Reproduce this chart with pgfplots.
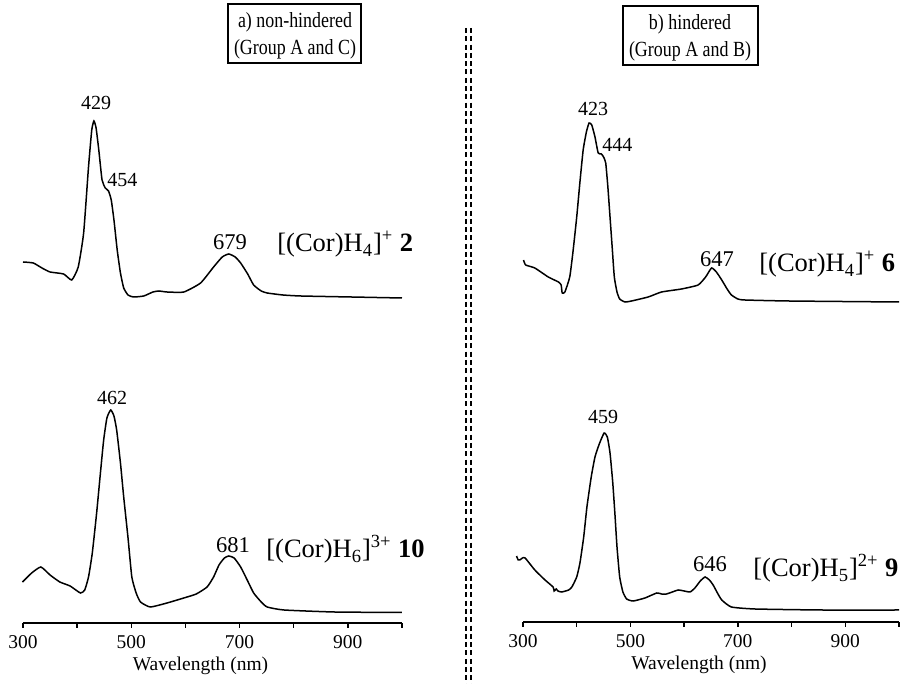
\documentclass[border=0pt]{standalone}
\usepackage{fontspec}
\setmainfont{Liberation Serif}
\usepackage{pgfplots}
\usepackage{pgfplotstable}
\pgfplotsset{compat=1.18}

% spectra, heights in px above the baseline axis
\pgfplotstableread{
nm h
300 361
319 360
335 355
350 351
375 349
390 343
402 356
412 390
421 456
427 493
431 502
435 495
440 473
446 443
452 435
458 432
463 423
468 403
474 373
480 350
486 335
494 328
504 326
523 327
540 331
551 332
566 331
597 331
628 340
652 356
668 366
680 369
692 366
702 360
715 349
726 338
740 332
751 330
780 328
813 327
906 326
1000 325
}\lefttop
\pgfplotstableread{
nm h
299 41
316 50
333 56
350 48
368 41
387 37
406 30
414 33
421 46
428 70
436 110
443 150
449 183
455 205
462 213
468 207
473 193
480 160
486 126
494 85
501 46
509 30
517 21
535 16
566 20
597 25
620 29
640 36
652 46
662 58
672 65
680 67
690 65
702 56
715 42
726 30
740 21
751 16
782 13
875 11
1000 10.5
}\leftbot
\pgfplotstableread{
nm h
301 362
305 357
322 354
347 345
366 340
371 337
373 329
378 330
387 345
393 370
400 405
406 440
412 472
418 490
423 499
428 497
434 485
440 469
446 468
450 465
454 459
458 435
462 405
466 375
470 345
475 330
480 323
490 320
502 321
533 325
558 330
595 333
626 337
640 345
651 354
660 350
670 342
680 333
688 327
700 323
713 322
794 321
1000 320
}\righttop
\pgfplotstableread{
nm h
288 66
291 62
294 62
299 64
304 64
322 52
341 42
356 35
358 31
362 33
365 31
372 30
385 32
391 35
400 45
406 59
413 85
419 115
427 145
434 165
442 178
451 189
457 185
462 169
467 140
471 109
475 75
480 45
486 30
493 23
505 21
527 24
549 29
558 28
567 28
578 30
589 32
600 31
611 30
620 34
630 41
639 45
647 42
654 37
662 29
670 22
688 15
732 13
856 12
1000 12
}\rightbot

\pgfplotsset{spec/.style={
  scale only axis, height=260pt,
  xmin=300, xmax=1000, ymin=0, ymax=520,
  axis x line*=bottom, axis y line=none,
  xtick={300,400,...,1000}, xticklabels={300,,500,,700,,900,},
  xtick align=outside, major tick length=2.5pt,
  tick style={line width=0.75pt, black},
  axis line style={line width=0.75pt},
  /pgf/number format/assume math mode=true,
  ticklabel style={font=\fontsize{9.75}{11}\selectfont},
  xlabel={Wavelength (nm)},
  xlabel style={font=\fontsize{9.75}{11}\selectfont, xshift=-6pt, yshift=2.5pt},
  clip=false,
}}

\newcommand{\cmpd}{\fontsize{13.25}{15}\selectfont}
\newcommand{\pk}{\fontsize{10}{12}\selectfont}
\newcommand{\pkl}{\fontsize{11.25}{13}\selectfont}
\newcommand{\ttl}{\fontsize{10.8}{13}\selectfont}

\begin{document}
\begin{tikzpicture}
\useasboundingbox (0,0) rectangle (452.5pt,342pt);

\begin{axis}[spec, width=189.5pt, at={(11.5pt,30.5pt)}, anchor=south west]
\addplot[black, line width=0.75pt, smooth, tension=0.3] table[x=nm,y=h] {\lefttop};
\addplot[black, line width=0.75pt, smooth, tension=0.3] table[x=nm,y=h] {\leftbot};
\end{axis}

\begin{axis}[spec, width=188pt, at={(261.5pt,31pt)}, anchor=south west]
\addplot[black, line width=0.75pt, smooth, tension=0.3] table[x=nm,y=h] {\righttop};
\addplot[black, line width=0.75pt, smooth, tension=0.3] table[x=nm,y=h] {\rightbot};
\end{axis}

% annotations in pixel coordinates (y down)
\begin{scope}[x=0.5pt, y=-0.5pt, yshift=342pt]
\draw[line width=1pt] (228,4) rectangle (361,63);
\draw[line width=1pt] (623,6) rectangle (758,65);
\node[anchor=base, inner sep=0, font=\ttl, xscale=0.83] at (295,28) {a) non-hindered};
\node[anchor=base, inner sep=0, font=\ttl, xscale=0.83] at (295,55) {(Group A and C)};
\node[anchor=base, inner sep=0, font=\ttl, xscale=0.83] at (690,30) {b) hindered};
\node[anchor=base, inner sep=0, font=\ttl, xscale=0.83] at (690,57) {(Group A and B)};

\draw[line width=1pt, dash pattern=on 2.5pt off 1.65pt] (466,28) -- (466,684);
\draw[line width=1pt, dash pattern=on 2.5pt off 1.65pt] (471,28) -- (471,684);

\node[anchor=base, inner sep=0, font=\pk] at (96,110) {429};
\node[anchor=base west, inner sep=0, font=\pk] at (107,187) {454};
\node[anchor=base, inner sep=0, font=\pkl] at (230,250) {679};
\node[anchor=base west, inner sep=0, font=\cmpd] at (277,252) {[(Cor)H\textsubscript{4}]\textsuperscript{+} \textbf{2}};
\node[anchor=base, inner sep=0, font=\pk] at (112,405) {462};
\node[anchor=base, inner sep=0, font=\pkl] at (233,553) {681};
\node[anchor=base west, inner sep=0, font=\cmpd] at (266,558) {[(Cor)H\textsubscript{6}]\textsuperscript{3+} \textbf{10}};

\node[anchor=base, inner sep=0, font=\pk] at (593,116) {423};
\node[anchor=base west, inner sep=0, font=\pk] at (602,152) {444};
\node[anchor=base, inner sep=0, font=\pkl] at (717,267) {647};
\node[anchor=base west, inner sep=0, font=\cmpd] at (759,272) {[(Cor)H\textsubscript{4}]\textsuperscript{+} \textbf{6}};
\node[anchor=base, inner sep=0, font=\pk] at (603,424) {459};
\node[anchor=base, inner sep=0, font=\pkl] at (710,572) {646};
\node[anchor=base west, inner sep=0, font=\cmpd] at (753,577) {[(Cor)H\textsubscript{5}]\textsuperscript{2+} \textbf{9}};
\end{scope}
\end{tikzpicture}
\end{document}
